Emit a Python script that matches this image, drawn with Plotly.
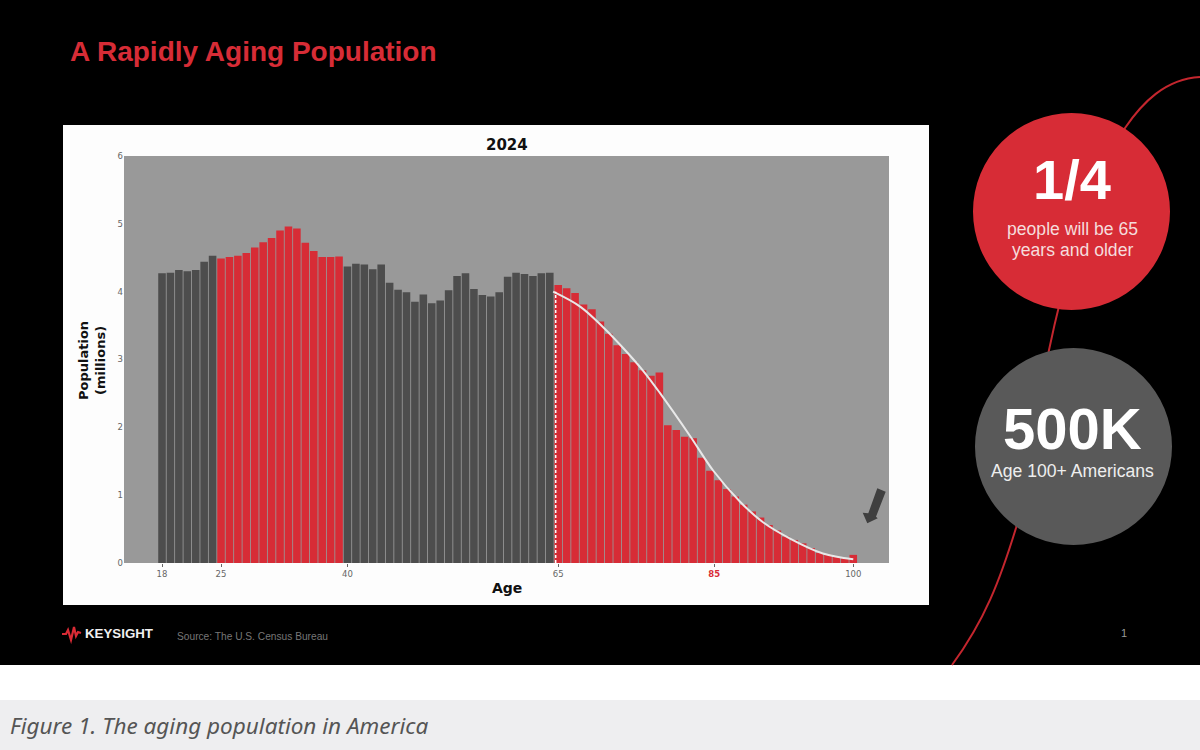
# -*- coding: utf-8 -*-
"""Aging population slide: population by age bars plus the slide furniture."""
import plotly.graph_objects as go

W = 1200
H = 750

ages = list(range(18, 101))
population = [
    4.27, 4.28, 4.32, 4.30, 4.32, 4.44, 4.53,  # 18-24
    4.49, 4.51, 4.53, 4.57, 4.65, 4.73, 4.79, 4.90, 4.96, 4.93, 4.72, 4.60, 4.51, 4.51, 4.52,  # 25-39
    4.37, 4.41, 4.40, 4.33, 4.40, 4.13, 4.03, 3.99, 3.85, 3.96, 3.83, 3.87, 4.02,  # 40-52
    4.23, 4.27, 4.04, 3.95, 3.93, 3.99, 4.22, 4.28, 4.26, 4.23, 4.27, 4.28,  # 53-64
    4.10, 4.05, 3.98, 3.81, 3.74, 3.56, 3.38, 3.21, 3.08, 2.96, 2.84, 2.76, 2.81,  # 65-77
    2.03, 1.96, 1.86, 1.84, 1.55, 1.36, 1.22, 1.09, 0.98, 0.86, 0.76, 0.67,  # 78-89
    0.56, 0.48, 0.39, 0.34, 0.29, 0.22, 0.15, 0.12, 0.09, 0.07, 0.12,  # 90-100
]
curve_ages = [64.4, 67.6, 70.3, 72.7, 75.1, 77.1, 80.6, 83.4, 86.6, 89.3, 92.5, 96.4, 100]
curve_values = [4.00, 3.78, 3.48, 3.17, 2.83, 2.50, 1.88, 1.36, 0.90, 0.60, 0.36, 0.14, 0.054]
tick_ages = [18, 25, 40, 65, 83.5, 100]  # the 85 tick sits left of its true place in the source
tick_labels = ['18', '25', '40', '65', '<span style="color:#d92b35"><b>85</b></span>', '100']

RED = '#d72c36'
DARK = '#4d4d4d'


def in_red_band(age):
    return 25 <= age < 40 or age >= 65


def px(x):
    return x / W


def py(y):
    return 1 - y / H


def rect(x0, y0, x1, y1, color):
    return dict(type='rect', xref='paper', yref='paper', layer='below',
                x0=px(x0), x1=px(x1), y0=py(y0), y1=py(y1),
                fillcolor=color, line=dict(width=0))


def circle(x0, y0, x1, y1, color):
    return dict(type='circle', xref='paper', yref='paper', layer='below',
                x0=px(x0), x1=px(x1), y0=py(y0), y1=py(y1),
                fillcolor=color, line=dict(width=0))


def path(points, closed=False):
    # points are pixel pairs, the svg letters are passed in between
    out = ''
    for p in points:
        if isinstance(p, str):
            out += p + ' '
        else:
            out += '%.5f,%.5f ' % (px(p[0]), py(p[1]))
    return out + ('Z' if closed else '')


def label(x, y, text, size, color, family='Liberation Sans', bold=False,
          xanchor='left', angle=0, italic=False):
    if bold:
        text = '<b>' + text + '</b>'
    if italic:
        text = '<i>' + text + '</i>'
    return dict(x=px(x), y=py(y), xref='paper', yref='paper', text=text,
                showarrow=False, xanchor=xanchor, yanchor='middle', textangle=angle,
                borderpad=0, borderwidth=0,
                font=dict(size=size, color=color, family=family), align='center')


fig = go.Figure()
fig.add_trace(go.Bar(x=ages, y=population,
                     marker=dict(color=[RED if in_red_band(a) else DARK for a in ages],
                                 line=dict(width=0)),
                     showlegend=False))
fig.add_trace(go.Scatter(x=curve_ages, y=curve_values, mode='lines',
                         line=dict(color='#e8e8e8', width=2, shape='spline'),
                         showlegend=False))

shapes = [
    rect(0, 0, W, 665, '#000000'),
    rect(0, 700, W, H, '#eeeef0'),
    rect(63, 125, 929, 605, '#fdfdfd'),
    dict(type='rect', xref='x domain', yref='y domain', layer='below',
         x0=0, x1=1, y0=0, y1=1, fillcolor='#999999', line=dict(width=0)),
    # thin red swoosh behind the two circles
    dict(type='path', xref='paper', yref='paper', layer='below',
         path=path(['M', (1200, 77), 'C', (1165, 79), (1142, 103), (1125, 128),
                    'C', (1095, 180), (1070, 250), (1049, 350),
                    'C', (1035, 430), (1020, 510), (1016, 528),
                    'C', (1000, 580), (985, 620), (952, 665)]),
         line=dict(color='#c4262e', width=2)),
    circle(973, 113, 1170, 310, RED),
    circle(975, 348, 1172, 545, '#595959'),
    # dashed marker at age 65
    dict(type='line', xref='x', yref='y', x0=64.7, x1=64.7, y0=0, y1=4.0,
         line=dict(color='#ffffff', width=1.5, dash='3px,2px')),
    # arrow pointing at the age 100 bar
    dict(type='path', xref='paper', yref='paper', layer='above',
         path=path(['M', (877.3, 488.3), 'L', (885.7, 491.7), 'L', (876, 516.7),
                    'L', (877.7, 518.3), 'L', (867.3, 523.3), 'L', (862.7, 512.7),
                    'L', (868.3, 513.3)], closed=True),
         fillcolor='#3f3f3f', line=dict(width=0)),
    # keysight wave
    dict(type='path', xref='paper', yref='paper', layer='above',
         path=path(['M', (62, 634), 'L', (66, 634), 'L', (68, 630), 'L', (71, 640),
                    'L', (74, 627), 'L', (76, 636), 'L', (78, 632), 'L', (81, 633)]),
         line=dict(color='#d92b35', width=2.2)),
]

annotations = [
    label(70, 51, 'A Rapidly Aging Population', 28, RED, bold=True),
    label(507, 145, '2024', 15, '#111111', family='DejaVu Sans', bold=True, xanchor='center'),
    label(92, 361, 'Population<br>(millions)', 13, '#111111', family='DejaVu Sans', bold=True,
          xanchor='center', angle=-90),
    label(507, 588, 'Age', 14, '#111111', family='DejaVu Sans', bold=True, xanchor='center'),
    label(85, 633, 'KEYSIGHT', 13.3, '#f0f0f0', bold=True),
    label(177, 636, 'Source: The U.S. Census Bureau', 10.2, '#777777'),
    label(1124, 633, '1', 11, '#999999', xanchor='center'),
    label(1072, 179, '1/4', 56, '#ffffff', bold=True, xanchor='center'),
    label(1072, 229, 'people will be 65', 17.6, '#f5dcdc', xanchor='center'),
    label(1072, 250, 'years and older', 17.6, '#f5dcdc', xanchor='center'),
    label(1072, 429, '500K', 58, '#ffffff', bold=True, xanchor='center'),
    label(1072, 471, 'Age 100+ Americans', 17.6, '#eeeeee', xanchor='center'),
    label(10, 725, 'Figure 1. The aging population in America', 22.5, '#555555',
          family='Noto Sans', italic=True),
]

fig.update_layout(
    width=W, height=H, margin=dict(l=0, r=0, t=0, b=0, autoexpand=False),
    paper_bgcolor='#ffffff', plot_bgcolor='rgba(0,0,0,0)',
    bargap=0.1, shapes=shapes, annotations=annotations,
    xaxis=dict(domain=[px(124), px(889)], range=[13.49, 104.24], automargin=False,
               tickmode='array', tickvals=tick_ages, ticktext=tick_labels,
               ticks='outside', ticklen=3, tickcolor='#666666', showgrid=False,
               zeroline=False, showline=False,
               tickfont=dict(size=8.5, color='#666666', family='DejaVu Sans')),
    yaxis=dict(domain=[py(563), py(156)], range=[0, 6], automargin=False,
               tickmode='array', tickvals=[0, 1, 2, 3, 4, 5, 6],
               ticks='', showgrid=False, zeroline=False, showline=False,
               tickfont=dict(size=8.5, color='#666666', family='DejaVu Sans')),
)

fig.write_html("out.html", config=dict(displayModeBar=False),
               post_script="document.body.style.margin='0';")
